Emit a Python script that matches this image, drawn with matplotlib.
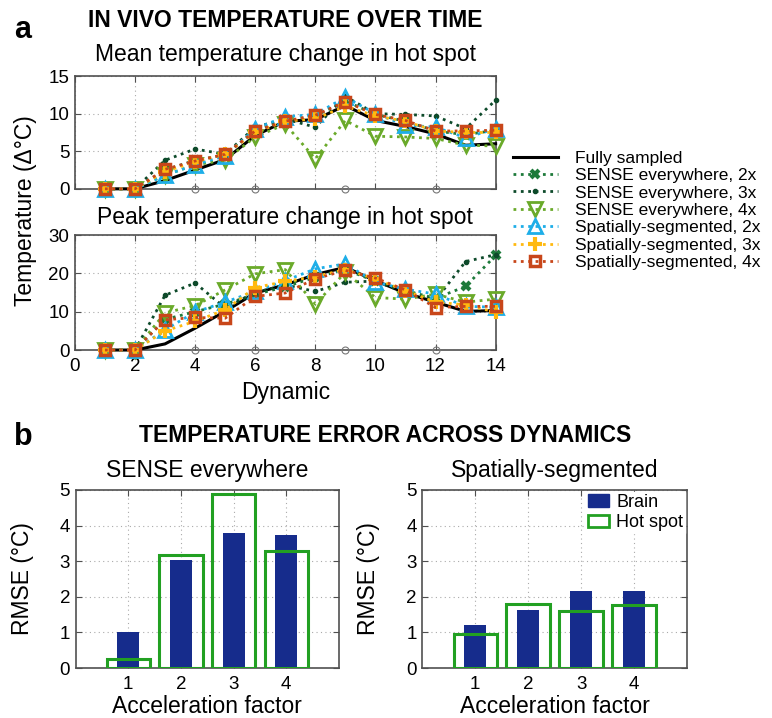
import numpy as np
import matplotlib
matplotlib.use("Agg")
import matplotlib.pyplot as plt
from matplotlib.patches import Patch

plt.rcParams['font.family'] = ['Liberation Sans', 'DejaVu Sans']

# ---- data: panel a ----
dyn = np.arange(1, 15)
mean_full = [0, 0, 1.1, 2.5, 3.9, 7.1, 9.0, 9.2, 11.1, 9.1, 8.3, 7.3, 5.8, 6.0]
mean_sense2 = [0, 0, 2.5, 3.8, 4.5, 7.8, 9.0, 9.7, 11.7, 9.9, 9.0, 7.7, 7.2, 7.8]
mean_sense3 = [0, 0, 3.8, 5.3, 4.6, 8.2, 9.3, 8.2, 12.3, 10.0, 9.9, 9.7, 8.0, 11.8]
mean_sense4 = [0, 0, 1.8, 3.2, 3.8, 6.9, 8.6, 4.0, 9.1, 7.0, 6.9, 6.7, 5.8, 5.7]
mean_seg2 = [0, 0, 1.8, 3.2, 4.4, 8.0, 9.6, 9.9, 12.2, 10.0, 8.5, 8.2, 6.8, 8.0]
mean_seg3 = [0, 0, 2.3, 3.6, 4.6, 7.5, 9.0, 9.3, 11.0, 9.7, 9.0, 7.7, 7.5, 7.5]
mean_seg4 = [0, 0, 2.6, 3.7, 4.6, 7.7, 9.0, 9.8, 11.6, 9.9, 9.1, 7.7, 7.7, 7.8]

peak_full = [0, 0, 1.6, 5.7, 10.1, 14.9, 17.0, 19.7, 21.6, 18.1, 14.9, 12.5, 10.1, 10.3]
peak_sense2 = [0, 0, 8.0, 10.0, 12.0, 14.5, 16.5, 19.0, 21.0, 18.0, 15.5, 13.5, 16.6, 24.7]
peak_sense3 = [0, 0, 14.3, 17.5, 11.0, 15.0, 17.0, 15.3, 17.7, 18.0, 15.0, 13.0, 23.1, 24.9]
peak_sense4 = [0, 0, 9.7, 11.6, 15.7, 19.9, 21.0, 12.0, 20.3, 13.7, 13.3, 14.6, 12.5, 13.3]
peak_seg2 = [0, 0, 5.3, 9.9, 12.5, 15.3, 18.1, 21.2, 22.5, 17.7, 15.9, 14.6, 11.4, 11.2]
peak_seg3 = [0, 0, 5.0, 7.5, 10.5, 16.3, 17.9, 19.2, 21.0, 18.6, 15.5, 12.5, 11.8, 9.9]
peak_seg4 = [0, 0, 7.9, 8.5, 8.3, 14.0, 14.9, 18.6, 20.8, 18.8, 15.7, 11.1, 11.4, 11.4]

heat_dyn = [4, 6, 9, 12]

# ---- data: panel b ----
accel = [1, 2, 3, 4]
sense_brain = [1.0, 3.02, 3.78, 3.74]
sense_hot = [0.25, 3.18, 4.9, 3.3]
seg_brain = [1.2, 1.63, 2.17, 2.15]
seg_hot = [0.95, 1.8, 1.6, 1.77]

labels = ["Fully sampled", "SENSE everywhere, 2x", "SENSE everywhere, 3x",
          "SENSE everywhere, 4x", "Spatially-segmented, 2x",
          "Spatially-segmented, 3x", "Spatially-segmented, 4x"]
styles = [
    dict(color='black', ls='-', lw=2.2, marker=None),
    dict(color='#1d7a3a', ls=':', lw=2, marker='x', ms=6, mew=3),
    dict(color='#0d4a2a', ls=':', lw=2, marker='.', ms=6),
    dict(color='#6aaa2a', ls=':', lw=2, marker='v', ms=9.5, mew=2, mfc='none'),
    dict(color='#1eaee8', ls=':', lw=2, marker='^', ms=9.5, mew=2, mfc='none'),
    dict(color='#ffb90f', ls=':', lw=2, marker='+', ms=10, mew=3),
    dict(color='#c8461a', ls=':', lw=2, marker='s', ms=7, mew=2.5, mfc='none'),
]

brain_col = '#162c8c'
hot_col = '#22a022'
spine_col = '#505050'
FS = 16.5
TFS = 13.5


def style_axes(ax):
    for s in ax.spines.values():
        s.set_color(spine_col)
        s.set_linewidth(1.2)
    ax.tick_params(direction='in', length=4, labelsize=TFS, color=spine_col,
                   top=True, right=True, pad=4)
    ax.tick_params(axis='x', pad=6)
    ax.grid(True, linestyle=(0, (1, 3)), color='#aaaaaa', linewidth=0.8)
    ax.set_axisbelow(True)


fig = plt.figure(figsize=(7.72, 7.18), dpi=100)

ax1 = fig.add_axes([0.097, 0.737, 0.545, 0.157])
ax2 = fig.add_axes([0.097, 0.5125, 0.545, 0.160])

mean_sets = [mean_full, mean_sense2, mean_sense3, mean_sense4, mean_seg2, mean_seg3, mean_seg4]
peak_sets = [peak_full, peak_sense2, peak_sense3, peak_sense4, peak_seg2, peak_seg3, peak_seg4]

handles = []
for ax, sets, ymax in [(ax1, mean_sets, 15), (ax2, peak_sets, 30)]:
    style_axes(ax)
    for vals, st, lab in zip(sets, styles, labels):
        st = dict(st)
        h, = ax.plot(dyn, vals, label=lab, clip_on=False, zorder=3,
                     color=st.pop('color'), linestyle=st.pop('ls'),
                     linewidth=st.pop('lw'), **st)
        if ax is ax1:
            handles.append(h)
    ax.plot(heat_dyn, [0] * len(heat_dyn), 'o', mfc='none', mec='#777777',
            ms=5, mew=0.8, clip_on=False, zorder=4)
    ax.set_xlim(0, 14)
    ax.set_ylim(0, ymax)
    ax.set_xticks(range(0, 15, 2))
    ax.set_yticks(np.arange(0, ymax + 1, ymax / 3))

ax1.tick_params(labelbottom=False)
ax1.set_title("Mean temperature change in hot spot", fontsize=FS, pad=11)
ax2.set_title("Peak temperature change in hot spot", fontsize=FS, pad=8)
ax2.set_xlabel("Dynamic", fontsize=FS, labelpad=4)
fig.text(0.033, 0.707, "Temperature (\u0394°C)", rotation=90, fontsize=FS,
         ha='center', va='center')

fig.legend(handles=handles, loc='upper left', bbox_to_anchor=(0.655, 0.800),
           frameon=False, fontsize=12.5, labelspacing=0.13, handlelength=2.6,
           handletextpad=1.0, borderaxespad=0)

fig.text(0.018, 0.947, "a", fontsize=22, fontweight='bold')
fig.text(0.369, 0.971, "IN VIVO TEMPERATURE OVER TIME", fontsize=16.5,
         fontweight='bold', ha='center', va='center')

# ---- panel b ----
bx1 = fig.add_axes([0.098, 0.0696, 0.341, 0.248])
bx2 = fig.add_axes([0.547, 0.0696, 0.343, 0.248])

for ax, brain, hot, title in [(bx1, sense_brain, sense_hot, "SENSE everywhere"),
                              (bx2, seg_brain, seg_hot, "Spatially-segmented")]:
    style_axes(ax)
    ax.bar(accel, brain, width=0.42, color=brain_col, zorder=2, label='Brain')
    ax.bar(accel, hot, width=0.82, facecolor='none', edgecolor=hot_col,
           linewidth=2.2, zorder=3, label='Hot spot')
    ax.set_xlim(0, 5)
    ax.set_ylim(0, 5)
    ax.set_xticks(accel)
    ax.set_yticks(range(0, 6))
    ax.set_title(title, fontsize=FS, pad=9)
    ax.set_xlabel("Acceleration factor", fontsize=FS, labelpad=1)
    ax.set_ylabel("RMSE (°C)", fontsize=FS)
    ax.yaxis.set_label_coords(-0.16, 0.5)

leg_h = [Patch(facecolor=brain_col, edgecolor=brain_col),
         Patch(facecolor='white', edgecolor=hot_col, linewidth=2)]
bx2.legend(leg_h, ['Brain', 'Hot spot'], loc='upper right', fontsize=13,
           frameon=True, framealpha=1, edgecolor='white', fancybox=False,
           borderpad=0.1, labelspacing=0.2, handlelength=1.2,
           handletextpad=0.4, borderaxespad=0.1)

fig.text(0.018, 0.380, "b", fontsize=22, fontweight='bold')
fig.text(0.499, 0.394, "TEMPERATURE ERROR ACROSS DYNAMICS", fontsize=16.5,
         fontweight='bold', ha='center', va='center')

fig.savefig("out.png", dpi=100)
